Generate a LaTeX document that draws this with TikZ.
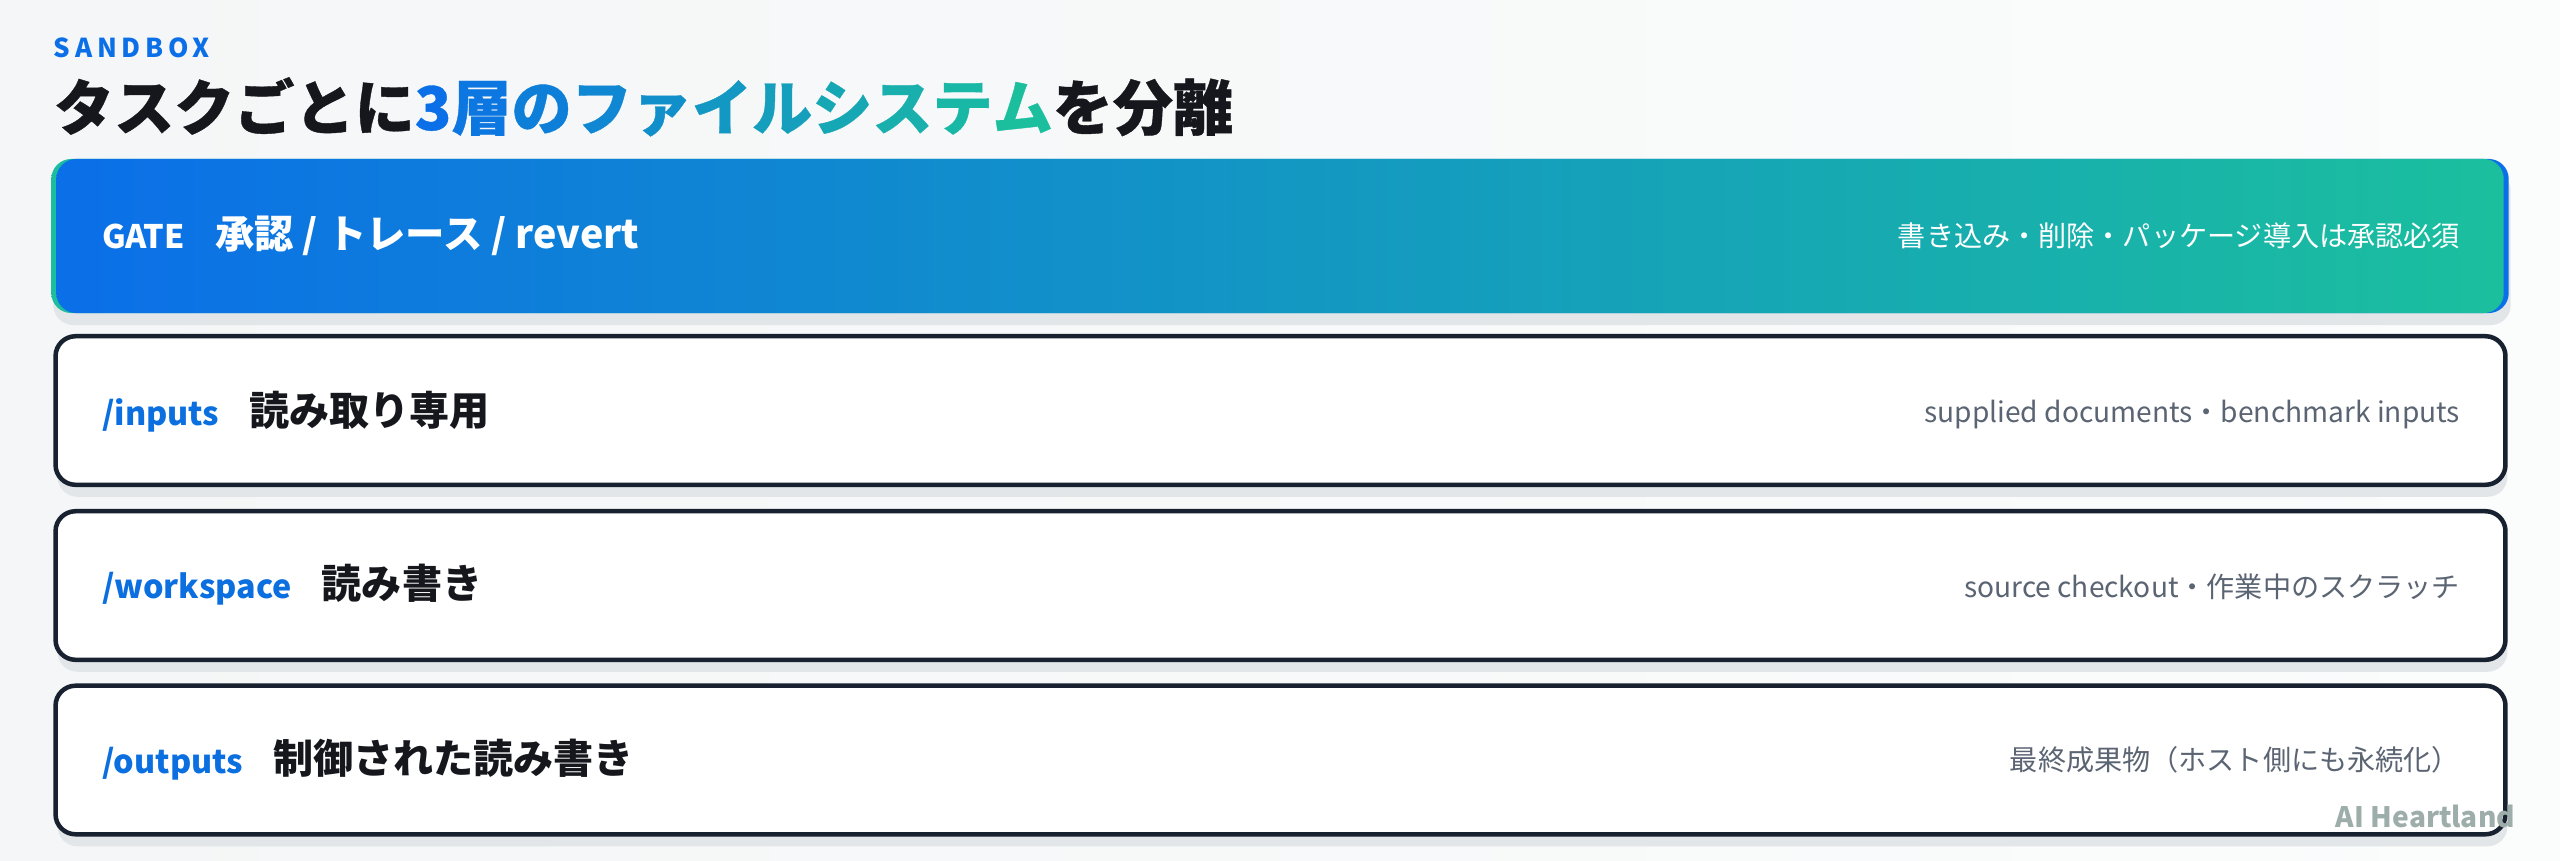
\documentclass[tikz,border=0pt]{standalone}
\usepackage{fontspec}
\setmainfont{Noto Sans CJK JP}
\usetikzlibrary{shadows}
\definecolor{bgc}{HTML}{F4F6F7}
\definecolor{bgw}{HTML}{FBFCFC}
\definecolor{shadowc}{HTML}{E3E6E8}
\definecolor{navy}{HTML}{18212F}
\definecolor{gblue}{HTML}{0B6FE8}
\definecolor{gteal}{HTML}{1BBF9E}
\definecolor{pblue}{HTML}{0B6FE0}
\definecolor{ink}{HTML}{15171C}
\definecolor{grayt}{HTML}{5B6472}
\definecolor{wmark}{HTML}{9DADA9}
\begin{document}
\begin{tikzpicture}[x=0.01cm,y=-0.01cm,
  every node/.style={inner sep=0pt, outer sep=0pt},
  boxshadow/.style={general shadow={fill=shadowc, shadow yshift=-0.12cm, shadow xshift=0.02cm}},
  rowbox/.style={draw=navy, line width=0.045cm, fill=white, rounded corners=0.2cm,
    minimum width=24.485cm, minimum height=1.485cm, boxshadow},
  gatebox/.style={left color=gblue, right color=gteal, rounded corners=0.2cm,
    minimum width=24.46cm, minimum height=1.54cm},
  gateedge/.style={left color=gteal, right color=gblue, rounded corners=0.2cm,
    minimum width=24.56cm, minimum height=1.54cm, boxshadow},
  tagtext/.style={anchor=base west, font=\bfseries\fontsize{9.2pt}{10pt}\selectfont, text=pblue},
  lbltext/.style={anchor=base west, font=\bfseries\fontsize{11.4pt}{13pt}\selectfont, text=ink},
  notetext/.style={anchor=base east, font=\fontsize{8pt}{10pt}\selectfont, text=grayt},
]
\shade[left color=bgc, right color=bgw] (0,0) rectangle (2560,860);
\useasboundingbox (0,0) rectangle (2560,860);

% header
\node[anchor=base west, font=\bfseries\fontsize{7.4pt}{9pt}\selectfont, text=gblue] (kicker) at (54,57)
  {\addfontfeature{LetterSpace=18}SANDBOX};
\node[anchor=base west, font=\bfseries\fontsize{17.1pt}{20pt}\selectfont\addfontfeature{FakeBold=0.6}, text=ink] (title) at (54,130)
  {タスクごとに\textcolor{gteal!0!gblue}{3}\textcolor{gteal!10!gblue}{層}\textcolor{gteal!20!gblue}{の}\textcolor{gteal!30!gblue}{フ}\textcolor{gteal!40!gblue}{ァ}\textcolor{gteal!50!gblue}{イ}\textcolor{gteal!60!gblue}{ル}\textcolor{gteal!70!gblue}{シ}\textcolor{gteal!80!gblue}{ス}\textcolor{gteal!90!gblue}{テ}\textcolor{gteal!100!gblue}{ム}を分離};

% boxes
\node[gateedge] (gateback) at (1280,236) {};
\node[gatebox] (gate) at (1280,236) {};
\node[rowbox] (inputs) at (1280.5,410.5) {};
\node[rowbox] (workspace) at (1280.5,585.5) {};
\node[rowbox] (outputs) at (1280.5,760) {};

% gate texts
\node[tagtext, text=white] (gatetag) at (102,248) {GATE};
\node[lbltext, text=white, font=\bfseries\fontsize{11.2pt}{13pt}\selectfont] (gatelbl) at ([xshift=0.3cm]gatetag.base east) {承認 / トレース / revert};
\node[notetext, text=white] (gatenote) at (2460,246) {書き込み・削除・パッケージ導入は承認必須};

% inputs
\node[tagtext] (intag) at (102,425) {/inputs};
\node[lbltext] (inlbl) at ([xshift=0.3cm]intag.base east) {読み取り専用};
\node[notetext] (innote) at (2460,422) {supplied documents・benchmark inputs};

% workspace
\node[tagtext] (wstag) at (102,598) {/workspace};
\node[lbltext] (wslbl) at ([xshift=0.3cm]wstag.base east) {読み書き};
\node[notetext] (wsnote) at (2460,597) {source checkout・作業中のスクラッチ};

% outputs
\node[tagtext] (outtag) at (102,773) {/outputs};
\node[lbltext] (outlbl) at ([xshift=0.3cm]outtag.base east) {制御された読み書き};
\node[notetext] (outnote) at (2460,770) {最終成果物（ホスト側にも永続化）};

% watermark
\node[anchor=base east, font=\bfseries\fontsize{8pt}{10pt}\selectfont, text=wmark] (wm) at (2515,827) {AI Heartland};
\end{tikzpicture}
\end{document}
